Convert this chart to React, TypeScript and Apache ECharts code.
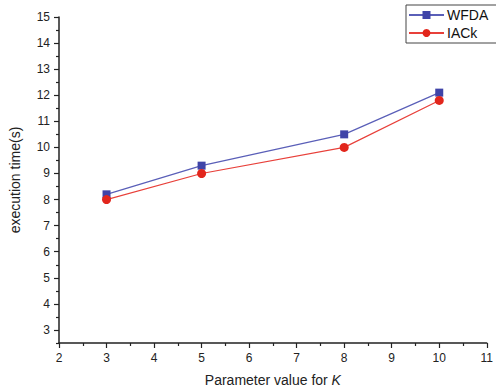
import React, { useEffect, useRef } from "react";
import * as echarts from "echarts";

const kValues = [3, 5, 8, 10];
const wfda = [8.2, 9.3, 10.5, 12.1];
const iack = [8.0, 9.0, 10.0, 11.8];
const yMajor = [3, 4, 5, 6, 7, 8, 9, 10, 11, 12, 13, 14, 15];
const yMinor = [2.5, 3.5, 4.5, 5.5, 6.5, 7.5, 8.5, 9.5, 10.5, 11.5, 12.5, 13.5, 14.5];

export default function App() {
  const ref = useRef<HTMLDivElement>(null);
  useEffect(() => {
    if (!ref.current) return;
    const chart = echarts.init(ref.current, null, { renderer: "svg" });
    const font = "'Liberation Sans', Arial, sans-serif";
    const axisColor = "#222";
    chart.setOption({
      animation: false,
      backgroundColor: "#fff",
      textStyle: { fontFamily: font },
      grid: { left: 55, right: 3, top: 17, bottom: 49, containLabel: false },
      legend: {
        left: 406,
        top: 5,
        orient: "vertical",
        borderColor: "#444",
        borderWidth: 1,
        borderRadius: 0,
        padding: [3, 20, 3, 2],
        itemGap: 4,
        itemWidth: 35,
        itemHeight: 10,
        textStyle: { fontSize: 14, color: "#111", fontFamily: font, padding: [0, 0, 0, -2] },
        data: ["WFDA", "IACk"],
      },
      xAxis: {
        type: "value",
        min: 2,
        max: 11,
        interval: 1,
        name: "Parameter value for {i|K}",
        nameLocation: "middle",
        nameGap: 30,
        nameTextStyle: {
          fontSize: 14,
          color: "#222",
          fontFamily: font,
          rich: { i: { fontStyle: "italic", fontSize: 14, color: "#222", fontFamily: font } },
        },
        axisLine: { show: true, onZero: false, lineStyle: { color: axisColor, width: 1.5 } },
        axisTick: { show: true, inside: false, length: 5, lineStyle: { color: axisColor, width: 1.2 } },
        minorTick: { show: true, splitNumber: 2, length: 3, lineStyle: { color: axisColor, width: 1.2 } },
        axisLabel: { fontSize: 12, color: "#222", margin: 9, fontFamily: font },
        splitLine: { show: false },
      },
      yAxis: [
        {
          type: "value",
          min: 2.5,
          max: 15,
          name: "execution time(s)",
          nameLocation: "middle",
          nameGap: 37,
          nameTextStyle: { fontSize: 14, color: "#222", fontFamily: font },
          axisLine: { show: true, onZero: false, lineStyle: { color: axisColor, width: 1.5 } },
          axisTick: {
            show: true,
            inside: false,
            length: 5,
            customValues: yMajor,
            lineStyle: { color: axisColor, width: 1.2 },
          },
          axisLabel: { fontSize: 12, color: "#222", margin: 9, fontFamily: font, customValues: yMajor },
          splitLine: { show: false },
        },
        {
          type: "value",
          min: 2.5,
          max: 15,
          position: "left",
          axisLine: { show: false },
          axisTick: {
            show: true,
            inside: false,
            length: 3,
            customValues: yMinor,
            lineStyle: { color: axisColor, width: 1.2 },
          },
          axisLabel: { show: false },
          splitLine: { show: false },
        },
      ],
      series: [
        {
          name: "WFDA",
          type: "line",
          data: kValues.map((k, i) => [k, wfda[i]]),
          symbol: "rect",
          symbolSize: 8,
          itemStyle: { color: "#3f44a8" },
          lineStyle: { color: "#5a5fb8", width: 1.2 },
        },
        {
          name: "IACk",
          type: "line",
          data: kValues.map((k, i) => [k, iack[i]]),
          symbol: "circle",
          symbolSize: 9,
          itemStyle: { color: "#e2261c" },
          lineStyle: { color: "#e8403a", width: 1.2 },
        },
      ],
    });
    return () => chart.dispose();
  }, []);
  return <div ref={ref} style={{ width: 496, height: 392, position: "absolute", left: 0, top: 0 }} />;
}
